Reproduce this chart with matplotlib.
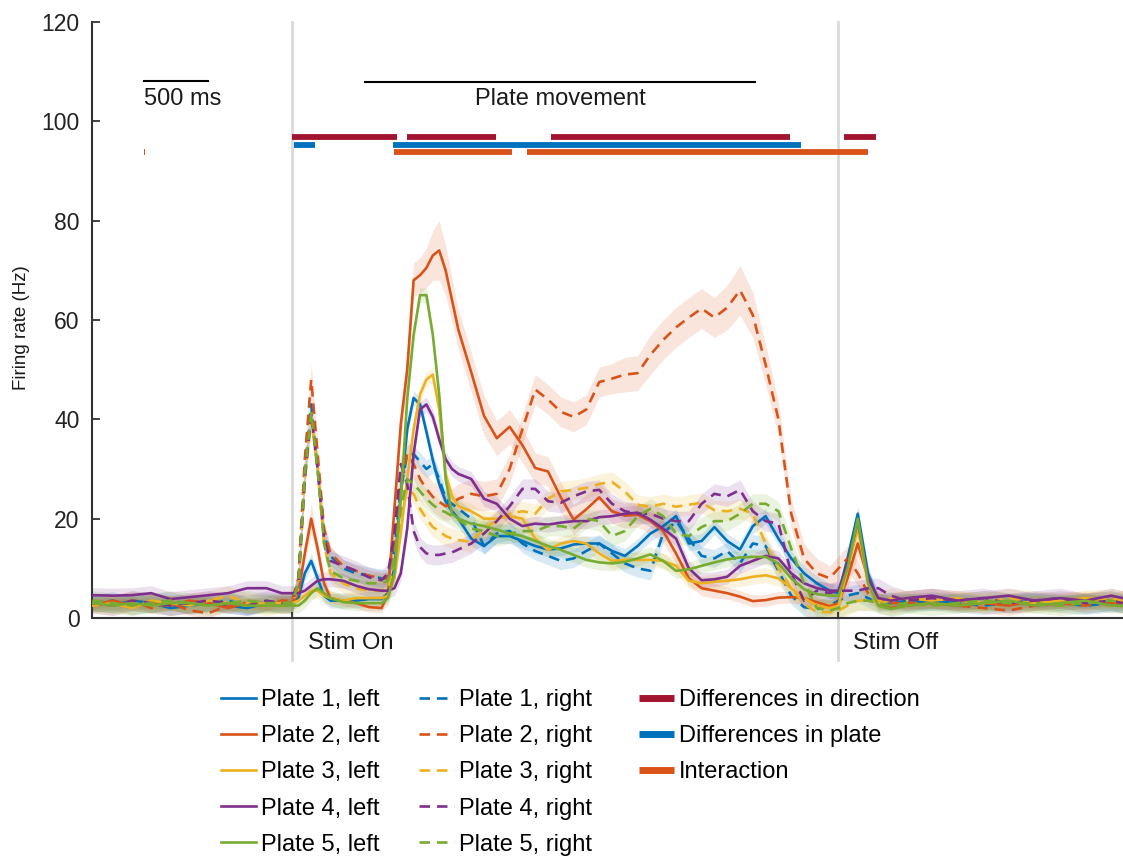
import matplotlib.pyplot as plt
from matplotlib.lines import Line2D
import numpy as np

plt.rcParams['font.family'] = ['Liberation Sans', 'DejaVu Sans']

# time relative to stimulus onset (s)
time_s = [-1.56, -1.4, -1.25, -1.1, -0.95, -0.8, -0.65, -0.5, -0.35, -0.2, -0.08,
          0.0, 0.05, 0.1, 0.15, 0.2, 0.25, 0.3, 0.4, 0.5, 0.6, 0.7,
          0.75, 0.8, 0.85, 0.9, 0.95, 1.0, 1.05, 1.1, 1.15, 1.2, 1.25, 1.3,
          1.4, 1.5, 1.6, 1.7, 1.8, 1.9, 2.0, 2.1, 2.2, 2.3,
          2.4, 2.5, 2.6, 2.7, 2.8, 2.9, 3.0, 3.1, 3.2, 3.3,
          3.4, 3.5, 3.6, 3.7, 3.8, 3.9, 4.0, 4.1, 4.2,
          4.27, 4.34, 4.42, 4.5, 4.58, 4.68, 4.8, 5.0, 5.2, 5.4, 5.6, 5.8, 6.0, 6.2, 6.4, 6.49]

# mean firing rates (Hz)
p1_left = [3, 2.5, 3.5, 3, 2, 2.5, 3, 2.5, 2, 3, 3,
           3, 4, 9, 11.5, 8, 4.5, 3.5, 3.5, 3.5, 3.8, 3.8,
           5, 10, 25, 38, 44.3, 43, 37.5, 31.8, 27, 23.5, 21.5, 20,
           16, 14.5, 16.5, 16.5, 15.5, 14.5, 13.8, 14, 14.8, 15,
           15, 13.5, 12.5, 14.5, 17, 18.5, 20.5, 15, 15.5, 18.3,
           15.5, 13.8, 18.5, 20.5, 16, 12, 9, 7, 5.5,
           5, 12, 21, 9, 3.5, 3, 3.5, 3, 3.5, 3, 3, 3.5, 3, 3.5, 3, 3]
p1_right = [3, 3.5, 2.5, 3, 3.5, 2.5, 3, 3.5, 2.5, 3, 3,
            3, 7, 30, 43, 30, 17, 12.5, 10, 9, 8.5, 8,
            8, 14, 26, 33, 33, 31.5, 30, 31, 28, 24, 23, 22,
            20, 14.5, 17, 17.5, 15, 13.5, 12.5, 11.5, 12, 13.5,
            15, 13, 11, 10, 9.5, 17, 19.5, 16, 12.5, 12,
            13.5, 11, 15, 14.5, 9.5, 4.5, 2.2, 1.8, 2.5,
            3.5, 4.5, 5, 4, 3, 3.5, 3, 3.5, 3, 2.5, 3, 3.5, 3, 2.5, 3, 3]
p2_left = [2.5, 3.5, 2.5, 3, 2.5, 3.5, 3, 2, 3, 2.5, 3,
           3, 5, 13, 20, 14, 7, 4, 3.5, 3, 2.2, 2,
           5, 22, 39, 50, 68, 69, 70.5, 73, 74, 70, 64, 58,
           49.5, 40.7, 36.2, 38.5, 34.8, 30.2, 29.5, 24.3, 19.8, 21.9,
           24.3, 21.5, 20.6, 20.8, 19.5, 17.5, 13, 8, 6, 5.5,
           5, 4.3, 3.4, 3.6, 4.1, 4.2, 4.0, 3.2, 2.4,
           3, 8, 15, 8, 3, 2, 2.5, 3, 2.5, 3, 2.5, 3.5, 3, 4, 3, 3]
p2_right = [3, 2.5, 3.5, 2, 3, 1.5, 1, 2.5, 3, 2.5, 3.5,
            3.5, 8, 32, 48, 33, 18, 13, 10.5, 9.5, 8.5, 8,
            8, 15, 28, 33, 31, 28, 26, 24.4, 23.4, 22.5, 23, 24,
            25, 24.5, 25, 30, 38, 46, 44, 41.5, 40.5, 42,
            47.5, 48.2, 49, 49.3, 53, 56, 58.5, 60.5, 62.3, 60.5,
            62.5, 66, 61, 51, 40, 21, 12, 9, 8,
            10, 12, 9, 5, 3.5, 3, 3, 3, 2.5, 2, 1.5, 2.5, 3, 2.5, 3.5, 3]
p3_left = [2.5, 3, 2, 3.5, 3, 2.5, 3.5, 3, 2.5, 3, 3,
           3, 3.5, 4.5, 5.5, 5.5, 4.5, 4, 3.5, 4, 4, 4,
           4.5, 8, 17, 28, 38, 45, 48, 49, 42, 29, 24.5, 22.5,
           21.5, 20, 20, 20.5, 20, 16, 13.7, 15, 15.5, 15,
           13, 11.5, 11.7, 11.7, 11.7, 11.5, 10.5, 7.5, 7, 7.3,
           7.5, 7.8, 8.3, 8.6, 8, 6, 4, 2.5, 2,
           2.5, 10, 18, 7, 3, 3.5, 4, 3.5, 4, 3, 3.5, 3, 3.5, 4, 3.5, 4]
p3_right = [3, 2.5, 3.5, 3, 2.5, 3, 3.5, 4.5, 3, 2.5, 3,
            3, 6, 28, 40, 30, 15, 9, 7, 6, 5.5, 5.5,
            6, 11, 20, 26, 25, 22, 20, 18.3, 17.5, 16.5, 16, 15.7,
            15.3, 18, 19.7, 21, 21.5, 21, 24, 25.5, 25.8, 26.2,
            27, 27.4, 25.5, 22.8, 22.4, 23, 22.4, 22.8, 23.2, 21.7,
            21.5, 22, 21, 15, 10, 6, 2.8, 1.2, 1.2,
            1.5, 2.5, 3.5, 3.5, 3.5, 4, 3.5, 4, 3.5, 3, 4, 3.5, 3, 3.5, 4, 3.5]
p4_left = [4.6, 4.5, 4.6, 5, 3.8, 4.2, 4.6, 5, 6, 6, 5,
           5, 5, 5.5, 6.5, 7.5, 7.8, 7.8, 7.5, 6.5, 5.8, 5.5,
           5.5, 6, 9, 18, 33, 42, 43, 40.5, 36, 32, 30, 29,
           28, 24, 23, 20, 18.5, 19, 18.8, 19.2, 19.5, 19.5,
           20.3, 20.5, 21, 21.2, 19.8, 18, 16, 10, 7.6, 7.8,
           8.3, 10.5, 11.5, 12.5, 12, 9, 7, 6, 5.5,
           5.5, 11, 19.5, 8, 4, 3.5, 4, 4.5, 3.5, 4, 4.5, 3.5, 4, 3.5, 4.5, 4]
p4_right = [3, 2.5, 3.5, 3, 2.5, 3, 3.5, 3, 2.5, 3.5, 3,
            3, 7, 28, 41, 30, 16, 11.5, 10.5, 9.5, 8.2, 7.6,
            9, 17, 31, 27, 17.5, 14.3, 13, 12.7, 12.7, 13, 13.2, 13.8,
            15, 17, 19.5, 22.5, 26, 26, 23.5, 23.2, 24.5, 25.5,
            25.8, 23, 21.5, 21, 21, 20, 19.5, 19.5, 23, 25,
            24.5, 25.8, 21.5, 19.5, 19, 9, 3.5, 5.5, 5,
            5.5, 5.5, 5.5, 6, 6, 4.5, 3.5, 4, 3.5, 4, 3, 3.5, 4, 3, 3.5, 3]
p5_left = [3, 2.5, 3, 2.5, 3, 3, 2.5, 3, 2.5, 2.5, 2.5,
           2.5, 2.5, 3.5, 5, 6, 5, 4, 3.2, 3, 3, 3,
           4, 9, 24, 44, 57, 65, 65, 57, 45, 28, 21, 20,
           19, 18.5, 17.8, 17, 16.5, 15.5, 14.5, 13.7, 12.7, 11.7,
           11.2, 11, 11.3, 12, 12.8, 11.5, 9.5, 9.8, 10.5, 11.2,
           11.8, 12.2, 12.3, 12.3, 11, 8, 5.8, 4.8, 4.5,
           4.5, 10, 20, 7, 2.5, 1.8, 2.5, 3, 2.5, 3, 3.5, 2.5, 3, 3.5, 2.5, 2.5]
p5_right = [3.5, 3, 2.5, 3, 3.5, 3, 2.5, 3, 3.5, 3, 3,
            3, 7, 29, 41.5, 30, 15, 9.5, 8, 7.5, 7, 7,
            7.5, 12, 22, 28, 27, 25.5, 24, 22.8, 21.8, 21.3, 20.5, 19.8,
            18, 17.5, 16.5, 17, 17.5, 17.5, 18.5, 18.5, 18, 20,
            19.5, 16.5, 17.5, 20.5, 22, 20.5, 17, 16.5, 18.3, 19.5,
            19.5, 21, 23, 23, 21.5, 14, 7, 2, 1.5,
            2, 3, 3.5, 3.5, 3, 2.5, 3, 2.5, 3, 3.5, 3, 3, 2.5, 3, 3.5, 3]

# s.e.m. (Hz): plate 2 varies over the trial, the others stay close to constant
p2_left_sem = ([1] * 11 + [1, 1, 2, 3, 2, 1.5, 1, 1, 1, 1, 1]
               + [1, 2, 3, 3.5, 3.5, 3.5, 4, 5, 6, 5, 4.5, 4]
               + [4, 4, 3.5, 3.5, 3.5, 3, 3, 3, 3, 3]
               + [3, 2.5, 2.5, 2.5, 2.5, 2.5, 2, 1.5, 1.5, 1.5]
               + [1.2] * 9 + [1.2, 2, 2.5, 2, 1.2] + [1] * 11)
p2_right_sem = ([1] * 11 + [1, 1.5, 3, 3, 3, 2, 1.5, 1.2, 1.2, 1.2, 1.2]
                + [1.2, 2, 2.5, 3, 3, 3, 3, 3, 3, 3, 3, 3]
                + [3] * 10
                + [3, 3, 3.5, 3.5, 4, 4, 4, 4, 4, 4]
                + [4.5, 5, 4.5, 4, 3.5, 3, 3, 3, 2.5]
                + [2.5, 2.5, 2.5, 2, 1.5] + [1] * 11)
p1_sem = [1.5, 1.8]
p3_sem = [1.5, 2.0]
p4_sem = [1.5, 2.0]
p5_sem = [1.5, 2.0]

plate_names = ['Plate 1', 'Plate 2', 'Plate 3', 'Plate 4', 'Plate 5']
plate_colors = ['#0072BD', '#D95319', '#EDB120', '#7E2F8E', '#77AC30']

# significant epochs (s)
direction_spans = [(0.0, 0.82), (0.898, 1.594), (2.023, 3.891), (4.313, 4.563)]
plate_spans = [(0.016, 0.18), (0.79, 3.98)]
interaction_spans = [(-1.156, -1.148), (0.797, 1.719), (1.836, 4.5)]
sig_names = ['Differences in direction', 'Differences in plate', 'Interaction']
sig_colors = ['#A2142F', '#0072BD', '#D95319']

stim_off = 4.266
movement = (0.57, 3.617)

W, H = 1123, 859
fig = plt.figure(figsize=(W / 100, H / 100), dpi=100)
ax = fig.add_axes([92 / W, 1 - 618 / H, 1 - 92 / W, (618 - 22) / H])

t = np.array(time_s)
left_means = [p1_left, p2_left, p3_left, p4_left, p5_left]
right_means = [p1_right, p2_right, p3_right, p4_right, p5_right]
left_sems = [p1_sem[0], np.array(p2_left_sem), p3_sem[0], p4_sem[0], p5_sem[0]]
right_sems = [p1_sem[1], np.array(p2_right_sem), p3_sem[1], p4_sem[1], p5_sem[1]]

lw = 1.9
dash = (0, (4, 2.6))
for i in range(5):
    c = plate_colors[i]
    for m, s in ((left_means[i], left_sems[i]), (right_means[i], right_sems[i])):
        m = np.array(m)
        ax.fill_between(t, m - s, m + s, color=c, alpha=0.15, lw=0, zorder=1)
for i in range(5):
    c = plate_colors[i]
    ax.plot(t, left_means[i], color=c, lw=lw, zorder=3)
    ax.plot(t, right_means[i], color=c, lw=lw, ls=dash, zorder=3)

# stimulus on/off markers
for x in (0, stim_off):
    ax.axvline(x, ymin=-0.07, ymax=1, color='#d9d9d9', lw=2, zorder=0, clip_on=False)

# significance bars
for spans, y, c in zip([direction_spans, plate_spans, interaction_spans],
                       [96.8, 95.2, 93.9], sig_colors):
    for a, b in spans:
        ax.plot([a, b], [y, y], color=c, lw=4.2, solid_capstyle='butt', zorder=4)

# scale bar and movement epoch
ax.plot([-1.156, -0.656], [108.1, 108.1], color='black', lw=1.5)
ax.text(-1.156, 104.4, '500 ms', fontsize=17, color='#1a1a1a', ha='left', va='center')
ax.plot(movement, [107.9, 107.9], color='black', lw=1.5)
ax.text(np.mean(movement), 104.4, 'Plate movement', fontsize=17, color='#1a1a1a',
        ha='center', va='center')

ax.set_xlim(-1.5625, 6.492)
ax.set_ylim(0, 120)
ax.set_yticks(range(0, 121, 20))
ax.set_xticks([0, stim_off])
ax.set_xticklabels([])
ax.tick_params(axis='y', direction='in', length=6, width=1.2, labelsize=16.5,
               pad=9, colors='#222222')
ax.tick_params(axis='x', direction='in', length=4, width=1.2, colors='#222222')
for side in ('top', 'right'):
    ax.spines[side].set_visible(False)
for side in ('left', 'bottom'):
    ax.spines[side].set_linewidth(1.5)
    ax.spines[side].set_color('#333333')

trans = ax.get_xaxis_transform()
ax.text(0.125, -0.042, 'Stim On', transform=trans, fontsize=17, color='#1a1a1a',
        ha='left', va='center')
ax.text(stim_off + 0.115, -0.042, 'Stim Off', transform=trans, fontsize=17,
        color='#1a1a1a', ha='left', va='center')

fig.text(22 / W, 1 - 328 / H, 'Firing rate (Hz)', rotation=90, fontsize=13.5,
         color='#1a1a1a', ha='center', va='center')

# legends
leg_kw = dict(loc='upper left', frameon=False, fontsize=17, handlelength=1.5,
              handletextpad=0.2, labelspacing=0.6, borderpad=0, borderaxespad=0)
solid_h = [Line2D([], [], color=c, lw=lw) for c in plate_colors]
dash_h = [Line2D([], [], color=c, lw=lw, ls=dash) for c in plate_colors]
sig_h = [Line2D([], [], color=c, lw=5, solid_capstyle='butt') for c in sig_colors]
fig.legend(solid_h, [n + ', left' for n in plate_names],
           bbox_to_anchor=(221 / W, 1 - 689 / H), **leg_kw)
fig.legend(dash_h, [n + ', right' for n in plate_names],
           bbox_to_anchor=(419 / W, 1 - 689 / H), **leg_kw)
fig.legend(sig_h, sig_names, bbox_to_anchor=(639 / W, 1 - 689 / H), **leg_kw)

fig.savefig('out.png', dpi=100)
